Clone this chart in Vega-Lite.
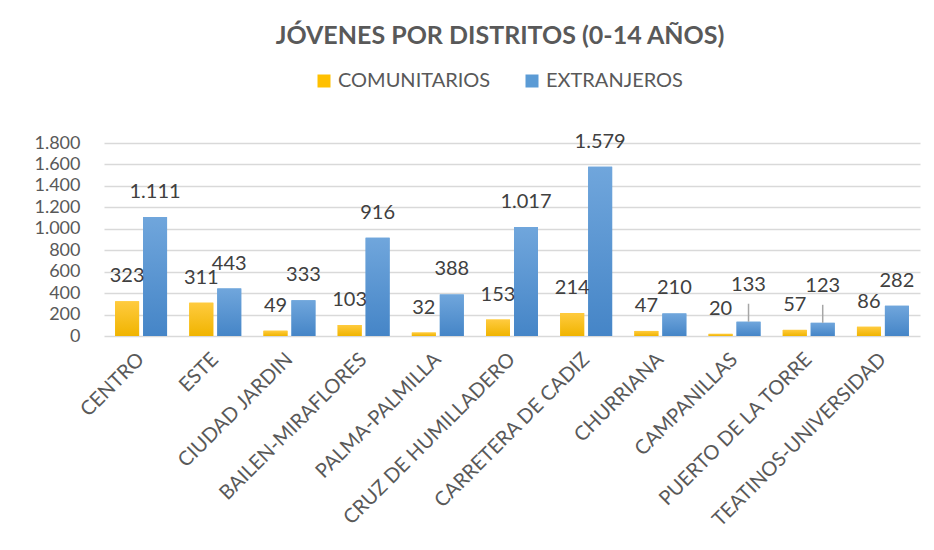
{
  "$schema": "https://vega.github.io/schema/vega-lite/v6.json",
  "width": 816,
  "height": 193,
  "autosize": {"type": "none"},
  "padding": {"left": 104, "top": 143, "right": 14, "bottom": 214},
  "background": "white",
  "config": {
    "locale": {"number": {"decimal": ",", "thousands": ".", "grouping": [3], "currency": ["", " €"]}},
    "font": "Lato",
    "view": {"stroke": null}
  },
  "title": {
    "text": "JÓVENES POR DISTRITOS (0-14 AÑOS)",
    "fontSize": 25,
    "fontWeight": "bold",
    "color": "#595959",
    "font": "Lato",
    "anchor": "middle",
    "dx": -12,
    "offset": 22
  },
  "data": {
    "values": [
      {"distrito": "CENTRO", "tipo": "COMUNITARIOS", "valor": 323},
      {"distrito": "CENTRO", "tipo": "EXTRANJEROS", "valor": 1111},
      {"distrito": "ESTE", "tipo": "COMUNITARIOS", "valor": 311},
      {"distrito": "ESTE", "tipo": "EXTRANJEROS", "valor": 443},
      {"distrito": "CIUDAD JARDIN", "tipo": "COMUNITARIOS", "valor": 49},
      {"distrito": "CIUDAD JARDIN", "tipo": "EXTRANJEROS", "valor": 333},
      {"distrito": "BAILEN-MIRAFLORES", "tipo": "COMUNITARIOS", "valor": 103},
      {"distrito": "BAILEN-MIRAFLORES", "tipo": "EXTRANJEROS", "valor": 916},
      {"distrito": "PALMA-PALMILLA", "tipo": "COMUNITARIOS", "valor": 32},
      {"distrito": "PALMA-PALMILLA", "tipo": "EXTRANJEROS", "valor": 388},
      {"distrito": "CRUZ DE HUMILLADERO", "tipo": "COMUNITARIOS", "valor": 153},
      {"distrito": "CRUZ DE HUMILLADERO", "tipo": "EXTRANJEROS", "valor": 1017},
      {"distrito": "CARRETERA DE CADIZ", "tipo": "COMUNITARIOS", "valor": 214},
      {"distrito": "CARRETERA DE CADIZ", "tipo": "EXTRANJEROS", "valor": 1579},
      {"distrito": "CHURRIANA", "tipo": "COMUNITARIOS", "valor": 47},
      {"distrito": "CHURRIANA", "tipo": "EXTRANJEROS", "valor": 210},
      {"distrito": "CAMPANILLAS", "tipo": "COMUNITARIOS", "valor": 20},
      {"distrito": "CAMPANILLAS", "tipo": "EXTRANJEROS", "valor": 133},
      {"distrito": "PUERTO DE LA TORRE", "tipo": "COMUNITARIOS", "valor": 57},
      {"distrito": "PUERTO DE LA TORRE", "tipo": "EXTRANJEROS", "valor": 123},
      {"distrito": "TEATINOS-UNIVERSIDAD", "tipo": "COMUNITARIOS", "valor": 86},
      {"distrito": "TEATINOS-UNIVERSIDAD", "tipo": "EXTRANJEROS", "valor": 282}
    ]
  },
  "encoding": {
    "x": {
      "field": "distrito",
      "type": "nominal",
      "sort": null,
      "scale": {"paddingInner": 0.3, "paddingOuter": 0.15},
      "axis": {
        "title": null,
        "labelAngle": -45,
        "labelAlign": "right",
        "labelBaseline": "middle",
        "labelFontSize": 20,
        "labelColor": "#595959",
        "labelFont": "Lato",
        "labelPadding": 20,
        "labelLimit": 400,
        "ticks": false,
        "domain": false,
        "grid": false
      }
    },
    "xOffset": {"field": "tipo", "type": "nominal", "scale": {"paddingInner": 0.143, "paddingOuter": 0}},
    "y": {
      "field": "valor",
      "type": "quantitative",
      "scale": {"domain": [0, 1800], "nice": false},
      "axis": {
        "title": null,
        "values": [0, 200, 400, 600, 800, 1000, 1200, 1400, 1600, 1800],
        "format": ",.0f",
        "labelFontSize": 18,
        "labelColor": "#595959",
        "labelFont": "Lato",
        "labelPadding": 24,
        "ticks": false,
        "tickSize": 0,
        "domain": false,
        "gridColor": "#d9d9d9",
        "gridWidth": 1.5
      }
    }
  },
  "layer": [
    {
      "mark": {"type": "bar"},
      "encoding": {
        "color": {
          "field": "tipo",
          "type": "nominal",
          "scale": {"domain": ["COMUNITARIOS", "EXTRANJEROS"], "range": ["#FFC000", "#5B9BD5"]},
          "legend": {
            "title": null,
            "orient": "none",
            "legendX": 210,
            "legendY": -72,
            "padding": 0,
            "direction": "horizontal",
            "symbolType": "square",
            "symbolSize": 169,
            "symbolStrokeWidth": 0,
            "labelFontSize": 20,
            "labelColor": "#595959",
            "labelFont": "Lato",
            "labelOffset": 4,
            "columnPadding": 31
          }
        }
      }
    },
    {
      "mark": {"type": "bar"},
      "encoding": {
        "fill": {
          "condition": {
            "test": "datum.tipo === 'COMUNITARIOS'",
            "value": {"gradient": "linear", "x1": 0, "y1": 0, "x2": 0, "y2": 1, "stops": [{"offset": 0, "color": "#ffcb3f"}, {"offset": 1, "color": "#f0b400"}]}
          },
          "value": {"gradient": "linear", "x1": 0, "y1": 0, "x2": 0, "y2": 1, "stops": [{"offset": 0, "color": "#70a6dc"}, {"offset": 1, "color": "#4585c7"}]}
        }
      }
    },
    {
      "transform": [{"filter": "!(datum.tipo === 'EXTRANJEROS' && (datum.distrito === 'CAMPANILLAS' || datum.distrito === 'PUERTO DE LA TORRE'))"}],
      "mark": {"type": "text", "dy": -25, "baseline": "middle", "fontSize": 20, "color": "#404040", "font": "Lato"},
      "encoding": {"text": {"field": "valor", "type": "quantitative", "format": ",.0f"}}
    },
    {
      "transform": [{"filter": "datum.tipo === 'EXTRANJEROS' && (datum.distrito === 'CAMPANILLAS' || datum.distrito === 'PUERTO DE LA TORRE')"}],
      "mark": {"type": "text", "dy": -37, "baseline": "middle", "fontSize": 20, "color": "#404040", "font": "Lato"},
      "encoding": {"text": {"field": "valor", "type": "quantitative", "format": ",.0f"}}
    },
    {
      "transform": [{"filter": "datum.tipo === 'EXTRANJEROS' && (datum.distrito === 'CAMPANILLAS' || datum.distrito === 'PUERTO DE LA TORRE')"}],
      "mark": {"type": "rule", "color": "#a6a6a6", "strokeWidth": 1.5, "y2Offset": -18},
      "encoding": {"y2": {"field": "valor"}}
    }
  ]
}
